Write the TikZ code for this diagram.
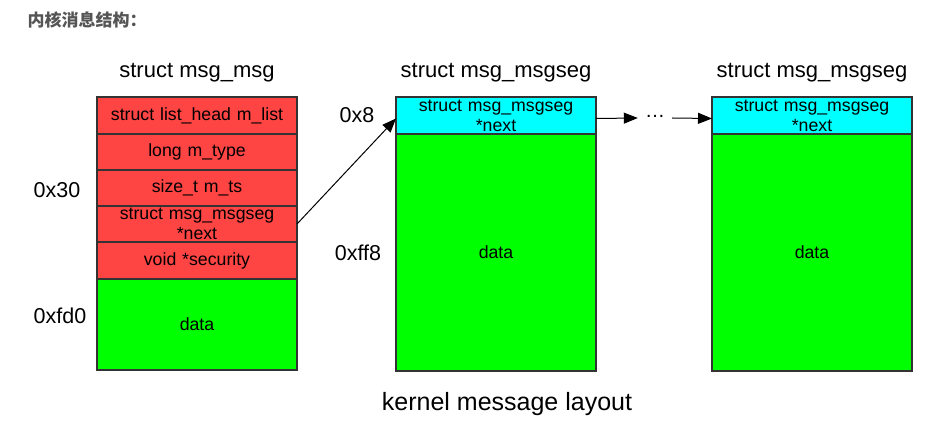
\documentclass[tikz,border=0pt]{standalone}
\usepackage{fontspec}
\setmainfont{Liberation Sans}
\newfontfamily\cjk{Noto Sans CJK SC}
\usetikzlibrary{arrows.meta,positioning}
\definecolor{CellRed}{HTML}{FF4444}
\definecolor{CellGreen}{HTML}{00FF00}
\definecolor{CellCyan}{HTML}{00FFFF}
\definecolor{Edge}{HTML}{333333}
\definecolor{Note}{HTML}{555555}
\tikzset{
  cell/.style={
    draw=Edge,line width=1.1pt,outer sep=0pt,
    minimum width=200pt,text width=196pt,align=center,inner sep=0pt,
    font=\fontsize{17.7}{20}\selectfont
  },
  head/.style={font=\fontsize{22}{24}\selectfont},
  addr/.style={font=\fontsize{21.5}{24}\selectfont,anchor=center},
  arrow/.style={-{Triangle[length=14pt,width=11pt]},line width=1pt,draw=black}
}
\begin{document}
\begin{tikzpicture}
  \useasboundingbox[fill=white] (0pt,0pt) rectangle (931pt,-427pt);
  \node[anchor=west,text=Note,font=\cjk\bfseries\fontsize{17}{19}\selectfont] (title) at (24pt,-20pt) {内核消息结构：};
  % struct msg_msg
  \node[head] (msghead) at (197pt,-73pt) {struct msg\_msg};
  \node[cell,fill=CellRed,minimum height=37pt,anchor=north] (one) at (197pt,-97pt) {struct list\_head m\_list};
  \node[cell,fill=CellRed,minimum height=36pt,below=0pt of one] (two) {long m\_type};
  \node[cell,fill=CellRed,minimum height=36pt,below=0pt of two] (three) {size\_t m\_ts};
  \node[cell,fill=CellRed,minimum height=36pt,below=0pt of three] (four) {struct msg\_msgseg\\{}*next};
  \node[cell,fill=CellRed,minimum height=37pt,below=0pt of four] (five) {void *security};
  \node[cell,fill=CellGreen,minimum height=91pt,below=0pt of five] (data) {data};
  % first segment
  \node[head] (seghead) at (496pt,-73pt) {struct msg\_msgseg};
  \node[cell,fill=CellCyan,minimum height=37pt,anchor=north] (segnext) at (496pt,-97pt) {struct msg\_msgseg\\{}*next};
  \node[cell,fill=CellGreen,minimum height=237pt,below=0pt of segnext] (segdata) {data};
  % last segment
  \node[head] (lasthead) at (812pt,-73pt) {struct msg\_msgseg};
  \node[cell,fill=CellCyan,minimum height=37pt,anchor=north] (lastnext) at (812pt,-97pt) {struct msg\_msgseg\\{}*next};
  \node[cell,fill=CellGreen,minimum height=237pt,below=0pt of lastnext] (lastdata) {data};
  % offsets
  \node[addr] (offa) at (357pt,-115pt) {0x8};
  \node[addr] (offb) at (57pt,-190pt) {0x30};
  \node[addr] (offc) at (358pt,-253pt) {0xff8};
  \node[addr] (offd) at (60pt,-316pt) {0xfd0};
  \node[font=\fontsize{20}{22}\selectfont,inner xsep=7pt] (dots) at (655pt,-116pt) {\dots};
  \node[font=\fontsize{25}{28}\selectfont] (caption) at (507pt,-404pt) {kernel message layout};
  \draw[arrow] (four.east) -- ([yshift=-3pt]segnext.west);
  \draw[arrow] ([yshift=-3pt]segnext.east) -- (dots.west |- 0,-118pt);
  \draw[arrow] (dots.east |- 0,-118pt) -- ([yshift=-3pt]lastnext.west);
\end{tikzpicture}
\end{document}
